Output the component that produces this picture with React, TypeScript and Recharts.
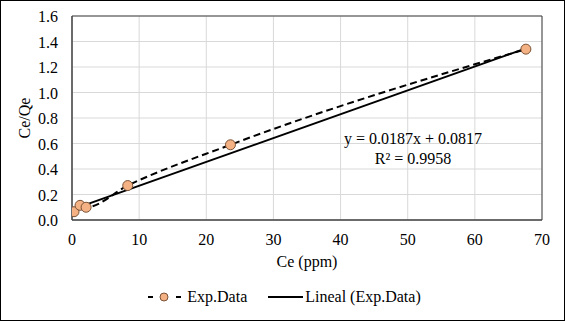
import React from 'react'
import {
  ComposedChart,
  Line,
  XAxis,
  YAxis,
  CartesianGrid,
  Legend,
  ReferenceArea,
  ReferenceDot,
} from 'recharts'

// Experimental points
const ceValues = [0.3, 1.2, 2.1, 8.3, 23.6, 67.6]
const ceQeValues = [0.065, 0.115, 0.1, 0.27, 0.59, 1.34]

// Linear trendline endpoints (y = 0.0187x + 0.0817)
const trendX = [0.3, 67.6]
const trendY = [0.087, 1.346]

const xTicks = [0, 10, 20, 30, 40, 50, 60, 70]
const yTicks = [0, 0.2, 0.4, 0.6, 0.8, 1.0, 1.2, 1.4, 1.6]

const equationText = 'y = 0.0187x + 0.0817'
const r2Text = 'R² = 0.9958'

const expData = ceValues.map((x, i) => ({ x, y: ceQeValues[i] }))
const trendData = trendX.map((x, i) => ({ x, y: trendY[i] }))

const FONT = '"Liberation Serif", "Times New Roman", serif'
const FS = 16

function XTick(props: any) {
  const { x, y, payload } = props
  return (
    <text x={x} y={y + 19} textAnchor="middle" fontFamily={FONT} fontSize={FS} fill="#000">
      {payload.value}
    </text>
  )
}

function YTick(props: any) {
  const { x, y, payload } = props
  return (
    <text x={x} y={y} dy={6} textAnchor="end" fontFamily={FONT} fontSize={FS} fill="#000">
      {Number(payload.value).toFixed(1)}
    </text>
  )
}

function LegendContent() {
  return (
    <div
      style={{
        display: 'flex',
        justifyContent: 'center',
        alignItems: 'center',
        fontFamily: FONT,
        fontSize: FS,
        color: '#000',
        height: 30,
        paddingLeft: 26,
      }}
    >
      <svg width={36} height={14} style={{ marginRight: 3 }}>
        <line x1={0} y1={7} x2={5} y2={7} stroke="#000" strokeWidth={2} />
        <circle cx={16} cy={7} r={4} fill="#F4B183" stroke="#7a5236" strokeWidth={1} />
        <line x1={28} y1={7} x2={33} y2={7} stroke="#000" strokeWidth={2} />
      </svg>
      <span style={{ marginRight: 21 }}>Exp.Data</span>
      <svg width={36} height={14} style={{ marginRight: 1 }}>
        <line x1={0} y1={7} x2={35} y2={7} stroke="#000" strokeWidth={2} />
      </svg>
      <span>Lineal (Exp.Data)</span>
    </div>
  )
}

function EquationLabel(props: any) {
  const { viewBox } = props
  const cx = viewBox.x
  const cy = viewBox.y
  return (
    <g fontFamily={FONT} fontSize={FS} fill="#000">
      <text x={cx} y={cy} textAnchor="middle" dominantBaseline="central">
        {equationText}
      </text>
      <text x={cx} y={cy + 20} textAnchor="middle" dominantBaseline="central">
        {r2Text}
      </text>
    </g>
  )
}

export default function App() {
  return (
    <div
      style={{
        position: 'fixed',
        left: 0,
        top: 0,
        width: 565,
        height: 321,
        boxSizing: 'border-box',
        border: '1px solid #000',
        background: '#fff',
      }}
    >
      <ComposedChart
        width={563}
        height={319}
        margin={{ top: 15, right: 22, left: 0, bottom: 8 }}
        style={{ fontFamily: FONT }}
      >
        <CartesianGrid stroke="#d9d9d9" strokeWidth={1} />
        <XAxis
          type="number"
          dataKey="x"
          domain={[0, 70]}
          ticks={xTicks}
          tickLine={false}
          axisLine={{ stroke: '#404040' }}
          tick={<XTick />}
          tickMargin={0}
          height={62}
          label={{ value: 'Ce (ppm)', position: 'insideBottom', offset: 15, fill: '#000', fontSize: FS, fontFamily: FONT }}
          allowDataOverflow
        />
        <YAxis
          type="number"
          dataKey="y"
          domain={[0, 1.6]}
          ticks={yTicks}
          tickLine={false}
          axisLine={{ stroke: '#404040' }}
          tick={<YTick />}
          tickMargin={8}
          width={71}
          label={{
            value: 'Ce/Qe',
            angle: -90,
            position: 'insideLeft',
            offset: 23,
            fill: '#000',
            fontSize: FS,
            fontFamily: FONT,
            style: { textAnchor: 'middle' },
          }}
        />
        <ReferenceArea x1={0} x2={70} y1={0} y2={1.6} fill="none" stroke="#404040" strokeWidth={1} ifOverflow="visible" />
        <Line
          data={trendData}
          dataKey="y"
          type="linear"
          stroke="#000"
          strokeWidth={2}
          dot={false}
          isAnimationActive={false}
          legendType="none"
        />
        <Line
          data={expData}
          dataKey="y"
          type="monotone"
          stroke="#000"
          strokeWidth={2}
          strokeDasharray="7 4"
          dot={{ r: 5, fill: '#F4B183', stroke: '#7a5236', strokeWidth: 1, strokeDasharray: '' }}
          isAnimationActive={false}
        />
        <ReferenceDot x={50.8} y={0.643} r={0} fill="none" stroke="none" label={<EquationLabel />} />
        <Legend verticalAlign="bottom" content={<LegendContent />} wrapperStyle={{ height: 30 }} />
      </ComposedChart>
    </div>
  )
}
